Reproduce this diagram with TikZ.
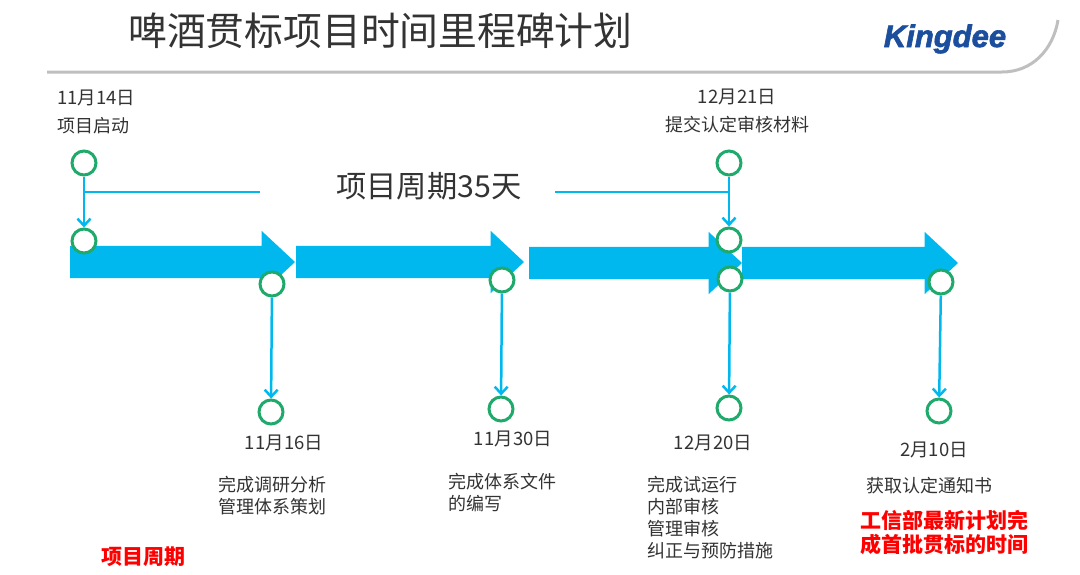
\documentclass[tikz,border=0pt]{standalone}
\usepackage{fontspec}
\usepackage{xcolor}
\setmainfont{Noto Sans CJK SC}
\newfontfamily\logofont[BoldItalicFeatures={FakeBold=2}]{Liberation Sans}
\usetikzlibrary{shapes.arrows, arrows.meta, positioning}
\definecolor{flowblue}{HTML}{00B8EE}
\definecolor{ringgreen}{HTML}{1FA96B}
\definecolor{inkgray}{HTML}{333333}
\definecolor{rulegray}{HTML}{BFBFBF}
\definecolor{logoblue}{HTML}{1B4F9E}

\begin{document}
\begin{tikzpicture}[
    x=1pt, y=-1pt,
    phase/.style={single arrow, draw=none, fill=flowblue, inner sep=16pt, outer sep=0pt, minimum width=62pt, single arrow head extend=15pt, single arrow tip angle=86, anchor=tail},
    ring/.style={circle, draw=ringgreen, fill=white, line width=3pt, minimum size=24pt, inner sep=0pt},
    date/.style={font=\fontsize{18.5}{28}\selectfont, text=inkgray, align=center, inner sep=0pt},
    detail/.style={font=\fontsize{18}{22}\selectfont, text=inkgray, align=left, anchor=west, inner sep=0pt},
    alert/.style={font=\fontsize{21}{24}\selectfont\bfseries, text=red, align=left, inner sep=0pt},
    arrow/.style={-{Straight Barb[length=7pt,width=13pt]}, line width=2.5pt, draw=flowblue},
    span/.style={line width=2.5pt, draw=flowblue}
]
\useasboundingbox (0,0) rectangle (1080,574);
% header
\node (title) [anchor=west, inner sep=0pt, text=inkgray, font=\fontsize{38.8}{42}\selectfont] at (128,31) {啤酒贯标项目时间里程碑计划};
\node (logo) [inner sep=0pt, text=logoblue, font=\logofont\bfseries\itshape\fontsize{31}{34}\selectfont] at (945,39) {Kingdee};
\coordinate (ruleleft) at (47,72);
\coordinate (ruleright) at (1058,20);
\draw [line width=3pt, draw=rulegray] (ruleleft) -- (1002,72) .. controls (1032,72) and (1053,50) .. (ruleright);
% timeline
\node (phase1) [phase, minimum height=225pt] at (70,262) {};
\node (phase2) [phase, minimum height=228pt] at (296,262) {};
\node (phase3) [phase, minimum height=213pt] at (529,263) {};
\node (phase4) [phase, minimum height=216pt] at (742,263) {};
% milestones
\node (kickoff) [ring] at (84,163) {};
\node (start) [ring, below=51pt of kickoff] {};
\node (submit) [ring] at (729,163) {};
\node (handin) [ring, below=50pt of submit] {};
\node (survey) [ring] at (272,284) {};
\node (surveyend) [ring, below=101pt of survey, xshift=-1pt] {};
\node (docs) [ring] at (502,280) {};
\node (docsend) [ring, below=102pt of docs, xshift=-1pt] {};
\node (trial) [ring] at (730,279) {};
\node (trialend) [ring, below=102pt of trial, xshift=-1pt] {};
\node (cert) [ring] at (941,282) {};
\node (certend) [ring, below=102pt of cert, xshift=-2pt] {};
\draw [arrow] (kickoff) -- (start);
\draw [arrow] (submit) -- (handin);
\draw [arrow] (survey) -- (surveyend);
\draw [arrow] (docs) -- (docsend);
\draw [arrow] (trial) -- (trialend);
\draw [arrow] (cert) -- (certend);
% project span
\node (cycle) [anchor=west, inner sep=0pt, text=inkgray, font=\fontsize{30.3}{34}\selectfont] at (336,186) {项目周期35天};
\coordinate (spanleft) at (kickoff |- 0,192);
\coordinate (spanright) at (submit |- 0,192);
\draw [span] (spanleft) -- (260,192);
\draw [span] (555,192) -- (spanright);
% labels
\node (kicktext) [detail, font=\fontsize{18.5}{28}\selectfont] at (57,112) {11月14日\\\fontsize{18}{28}\selectfont 项目启动};
\node (submittext) [date] at (737,111) {12月21日\\\fontsize{18}{28}\selectfont 提交认定审核材料};
\node (surveydate) [date] at (284,443) {11月16日};
\node (surveytext) [detail] at (218,495.5) {完成调研分析\\管理体系策划};
\node (docsdate) [date] at (513,439) {11月30日};
\node (docstext) [detail] at (448,493) {完成体系文件\\的编写};
\node (trialdate) [date] at (713,443) {12月20日};
\node (trialtext) [detail] at (647,518) {完成试运行\\内部审核\\管理审核\\纠正与预防措施};
\node (certdate) [date] at (934,449.5) {2月10日};
\node (certtext) [detail] at (866,486) {获取认定通知书};
\node (certnote) [alert, anchor=west] at (860,533) {工信部最新计划完\\成首批贯标的时间};
\node (cyclenote) [alert] at (143,557) {项目周期};
\end{tikzpicture}
\end{document}
